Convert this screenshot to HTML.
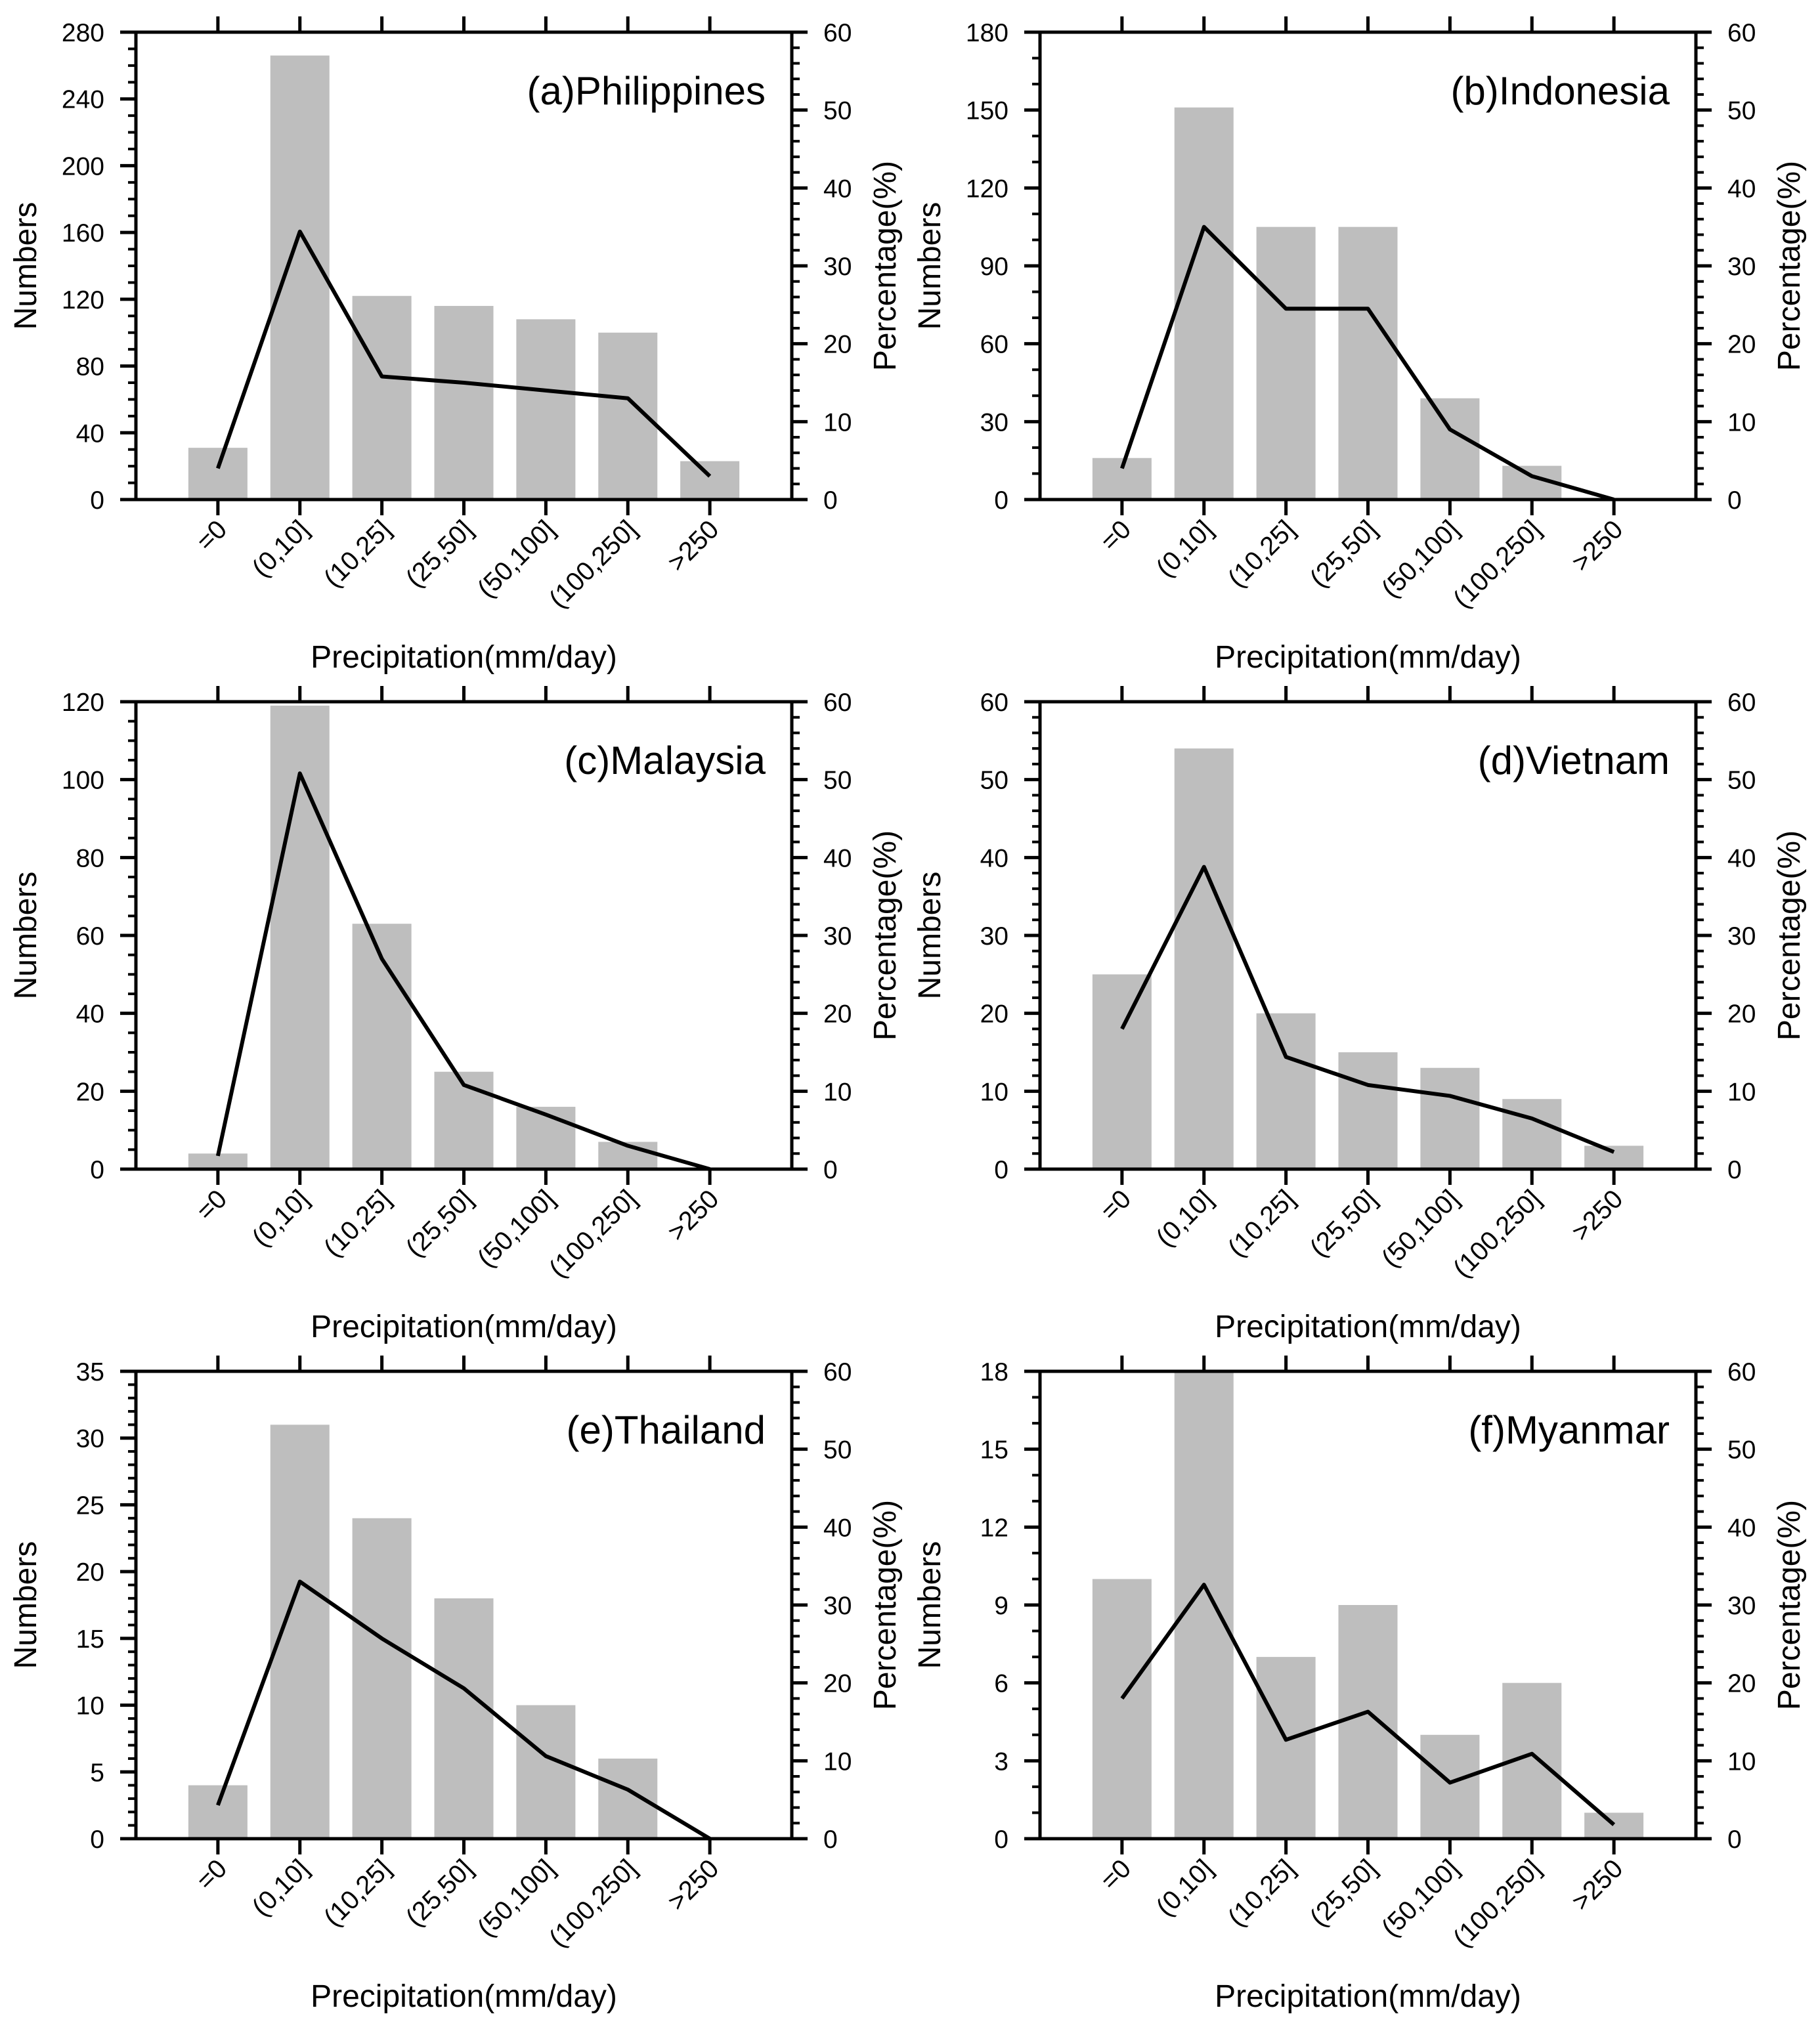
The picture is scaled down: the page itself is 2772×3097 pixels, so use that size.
<!DOCTYPE html>
<html><head><meta charset="utf-8"><style>
html,body{margin:0;padding:0;background:#fff}
svg{display:block}
text{font-family:"Liberation Sans",sans-serif;fill:#000}
</style></head><body>
<svg id="fig" width="2772" height="3097" viewBox="0 0 2772 3097" xmlns="http://www.w3.org/2000/svg"></svg>
<script>
const categories = ["=0","(0,10]","(10,25]","(25,50]","(50,100]","(100,250]",">250"];
const panelTitles = ["(a)Philippines","(b)Indonesia","(c)Malaysia","(d)Vietnam","(e)Thailand","(f)Myanmar"];
const countsA = [31,266,122,116,108,100,23];
const countsB = [16,151,105,105,39,13,0];
const countsC = [4,119,63,25,16,7,0];
const countsD = [25,54,20,15,13,9,3];
const countsE = [4,31,24,18,10,6,0];
const countsF = [10,18,7,9,4,6,1];
const pctA = [4,34.4,15.8,15,14,13,3];
const pctB = [4,35,24.5,24.5,9,3,0];
const pctC = [1.7,50.8,27,10.8,7,3,0];
const pctD = [18,38.8,14.4,10.8,9.4,6.5,2.2];
const pctE = [4.3,33,25.7,19.3,10.6,6.3,0];
const pctF = [18,32.6,12.7,16.3,7.2,10.9,1.8];
const leftMax = [280,180,120,60,35,18];
const leftMajor = [40,30,20,10,5,3];
const leftMinor = [10,10,5,2,1,1];
const rightMax = 60, rightMajor = 10, rightMinor = 2;

const counts=[countsA,countsB,countsC,countsD,countsE,countsF];
const pcts=[pctA,pctB,pctC,pctD,pctE,pctF];
const NS="http://www.w3.org/2000/svg";
const svg=document.getElementById('fig');
function mk(tag,attrs,parent){const e=document.createElementNS(NS,tag);for(const k in attrs)e.setAttribute(k,attrs[k]);(parent||svg).appendChild(e);return e;}
const W=999,H=712;
const lefts=[207,1584], tops=[49,1069,2089];
for(let p=0;p<6;p++){
  const x0=lefts[p%2], y0=tops[Math.floor(p/2)];
  const g=mk('g',{});
  
  
  const xs=i=>x0+(i+1)*W/8;
  const yl=v=>y0+H-v/leftMax[p]*H;
  const yr=v=>y0+H-v/rightMax*H;
  counts[p].forEach((v,i)=>{
    if(v<=0)return;
    const r=mk('rect',{x:xs(i)-45,y:yl(v),width:90,height:y0+H-yl(v),fill:'#bebebe'},g);
    
    
  });
  const pts=pcts[p].map((v,i)=>xs(i)+','+yr(v)).join(' ');
  const pl=mk('polyline',{points:pts,fill:'none',stroke:'#000','stroke-width':6,'stroke-linejoin':'round'},g);
  
  
  const fr=mk('rect',{x:x0,y:y0,width:W,height:H,fill:'none',stroke:'#000','stroke-width':5},g);
  
  
  for(let v=0;v<=leftMax[p]+1e-9;v+=leftMinor[p]){
    const maj=Math.abs(v/leftMajor[p]-Math.round(v/leftMajor[p]))<1e-6;
    mk('line',{x1:x0,x2:x0-(maj?24:12),y1:yl(v),y2:yl(v),stroke:'#000','stroke-width':maj?5:4},g);
    if(maj){const t=mk('text',{x:x0-48,y:yl(v)+14,'text-anchor':'end','font-size':39},g);t.textContent=v;
      
      }
  }
  for(let v=0;v<=rightMax;v+=rightMinor){
    const maj=v%rightMajor===0;
    mk('line',{x1:x0+W,x2:x0+W+(maj?24:12),y1:yr(v),y2:yr(v),stroke:'#000','stroke-width':maj?5:4},g);
    if(maj){const t=mk('text',{x:x0+W+48,y:yr(v)+14,'font-size':39},g);t.textContent=v;
      
      }
  }
  categories.forEach((c,i)=>{
    mk('line',{x1:xs(i),x2:xs(i),y1:y0,y2:y0-24,stroke:'#000','stroke-width':5},g);
    mk('line',{x1:xs(i),x2:xs(i),y1:y0+H,y2:y0+H+24,stroke:'#000','stroke-width':5},g);
    const t=mk('text',{x:xs(i)+16,y:y0+H+48,'text-anchor':'end','font-size':40,transform:`rotate(-45 ${xs(i)+16} ${y0+H+48})`},g);
    t.textContent=c;
    
    
  });
  const ti=mk('text',{x:x0+W-40,y:y0+110,'text-anchor':'end','font-size':60},g);ti.textContent=panelTitles[p];
  
  
  const yt=mk('text',{x:0,y:0,'text-anchor':'middle','font-size':48,transform:`translate(${x0-152} ${y0+H/2}) rotate(-90)`},g);yt.textContent='Numbers';
  
  
  const rt=mk('text',{x:0,y:0,'text-anchor':'middle','font-size':48,transform:`translate(${x0+W+158} ${y0+H/2}) rotate(-90)`},g);rt.textContent='Percentage(%)';
  
  
  const xt=mk('text',{x:x0+W/2,y:y0+H+256,'text-anchor':'middle','font-size':48},g);xt.textContent='Precipitation(mm/day)';
  
  
}
</script>
</body></html>
